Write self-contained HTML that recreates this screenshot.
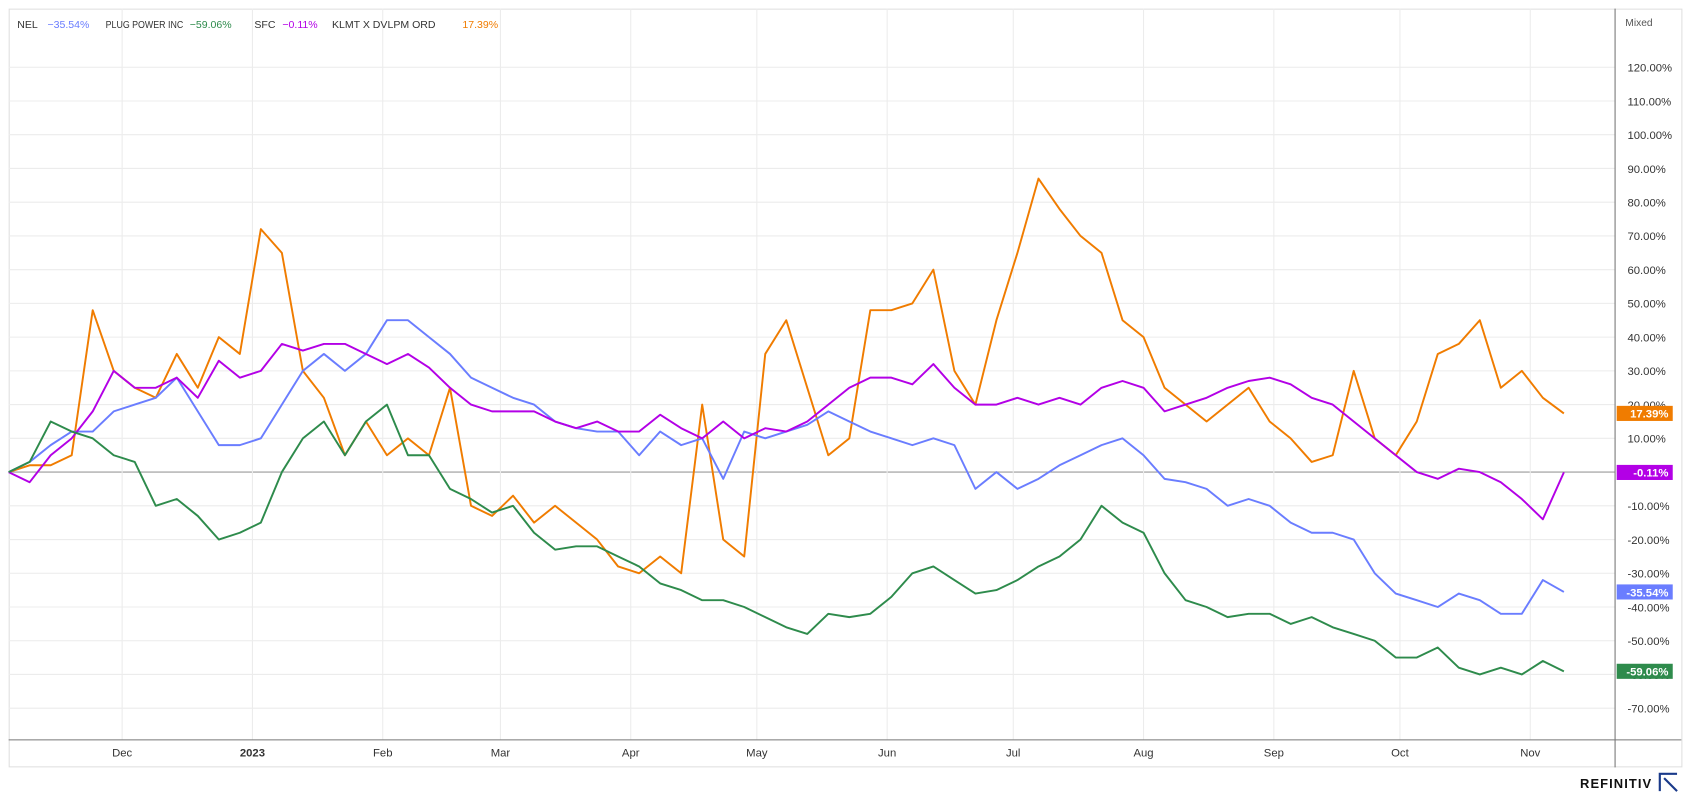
<!DOCTYPE html>
<html><head><meta charset="utf-8"><style>
html,body{margin:0;padding:0;background:#fff;width:1690px;height:794px;overflow:hidden;font-family:"Liberation Sans",sans-serif}
svg text{font-family:"Liberation Sans",sans-serif}
</style></head><body>
<svg id="c" width="1690" height="794" viewBox="0 0 1568 736.7" xmlns="http://www.w3.org/2000/svg"></svg>
<script>
const stepDays = 5;
const nelVals = [0,3,8,12,12,18,20,22,28,18,8,8,10,20,30,35,30,35,45,45,40,35,28,25,22,20,15,13,12,12,5,12,8,10,-2,12,10,12,14,18,15,12,10,8,10,8,-5,0,-5,-2,2,5,8,10,5,-2,-3,-5,-10,-8,-10,-15,-18,-18,-20,-30,-36,-38,-40,-36,-38,-42,-42,-32,-35.54];
const plugVals = [0,3,15,12,10,5,3,-10,-8,-13,-20,-18,-15,0,10,15,5,15,20,5,5,-5,-8,-12,-10,-18,-23,-22,-22,-25,-28,-33,-35,-38,-38,-40,-43,-46,-48,-42,-43,-42,-37,-30,-28,-32,-36,-35,-32,-28,-25,-20,-10,-15,-18,-30,-38,-40,-43,-42,-42,-45,-43,-46,-48,-50,-55,-55,-52,-58,-60,-58,-60,-56,-59.06];
const sfcVals = [0,-3,5,10,18,30,25,25,28,22,33,28,30,38,36,38,38,35,32,35,31,25,20,18,18,18,15,13,15,12,12,17,13,10,15,10,13,12,15,20,25,28,28,26,32,25,20,20,22,20,22,20,25,27,25,18,20,22,25,27,28,26,22,20,15,10,5,0,-2,1,0,-3,-8,-14,-0.11];
const klmtVals = [0,2,2,5,48,30,25,22,35,25,40,35,72,65,30,22,5,15,5,10,5,25,-10,-13,-7,-15,-10,-15,-20,-28,-30,-25,-30,20,-20,-25,35,45,25,5,10,48,48,50,60,30,20,45,65,87,78,70,65,45,40,25,20,15,20,25,15,10,3,5,30,10,5,15,35,38,45,25,30,22,17.39];
const yTicks = [120,110,100,90,80,70,60,50,40,30,20,10,0,-10,-20,-30,-40,-50,-60,-70];
const monthLabels = ["Dec","2023","Feb","Mar","Apr","May","Jun","Jul","Aug","Sep","Oct","Nov"];
const monthDays = [27,58,89,117,148,178,209,239,270,301,331,362];

const svg=document.getElementById('c');
const NS='http://www.w3.org/2000/svg';
const X=d=>8+d*3.9;
const Y=v=>438-v*3.13;
function el(t,a,txt){const e=document.createElementNS(NS,t);for(const k in a)e.setAttribute(k,a[k]);if(txt!==undefined)e.textContent=txt;svg.appendChild(e);return e;}

let b=el('rect',{x:8.5,y:8.5,width:1552,height:703,fill:'none',stroke:'#e0e0e0'});


yTicks.forEach(v=>{
  let g=el('line',{x1:8,x2:1498,y1:Y(v),y2:Y(v),stroke:v===0?'#9a9a9a':'#ececec','stroke-width':1});
  
  
  let t=el('text',{x:1510,y:Y(v)+4,'font-size':10.5,fill:'#333'},v.toFixed(2)+'%');
  
  
});
monthLabels.forEach((m,i)=>{
  let g=el('line',{x1:X(monthDays[i]),x2:X(monthDays[i]),y1:8,y2:686,stroke:'#ececec'});
  
  
  let t=el('text',{x:X(monthDays[i]),y:702,'font-size':10.5,fill:'#333','text-anchor':'middle','font-weight':m==='2023'?'bold':'normal'},m);
  
  
});
let ax=el('line',{x1:8,x2:1560,y1:686.5,y2:686.5,stroke:'#777'});


let ay=el('line',{x1:1498.5,x2:1498.5,y1:8,y2:712,stroke:'#777'});


let mx=el('text',{x:1508,y:24,'font-size':9.5,fill:'#555'},'Mixed');



const series=[
 {name:'klmt',vals:klmtVals,color:'#f07c00'},
 {name:'nel',vals:nelVals,color:'#6a7dff'},
 {name:'sfc',vals:sfcVals,color:'#b300e6'},
 {name:'plug',vals:plugVals,color:'#2e8b4c'}];
series.forEach(s=>{
  const pts=s.vals.map((v,i)=>X(i*stepDays).toFixed(1)+','+Y(v).toFixed(1)).join(' ');
  let p=el('polyline',{points:pts,fill:'none',stroke:s.color,'stroke-width':1.8,'stroke-linejoin':'round'});
  
  
  const last=s.vals[s.vals.length-1];
  const txt=last.toFixed(2)+'%';
  let r=el('rect',{x:1500,y:Y(last)-7,width:52,height:14,fill:s.color});
  
  
  let t=el('text',{x:1548,y:Y(last)+4,'font-size':10.5,'font-weight':'bold',fill:'#fff','text-anchor':'end'},txt);
  
  
});
const legend=[['NEL','#333',16,0],['−35.54%','#6a7dff',44,0],['PLUG POWER INC','#333',98,72],['−59.06%','#2e8b4c',176,0],['SFC','#333',236,0],['−0.11%','#b300e6',262,0],['KLMT X DVLPM ORD','#333',308,0],['17.39%','#f07c00',429,0]];
legend.forEach(l=>{
  const a={x:l[2],y:26,'font-size':9.8,fill:l[1]};
  if(l[3]){a.textLength=l[3];a.lengthAdjust='spacingAndGlyphs';}
  let t=el('text',a,l[0]);
  
  
});
let lg=el('text',{x:1466,y:788*0.928,'font-size':12,'font-weight':'bold',fill:'#111','letter-spacing':'1'},'REFINITIV');


let li=el('path',{d:'M1540 734 V718 H1556 M1544 722 L1556 734',fill:'none',stroke:'#1a3a8a','stroke-width':2});


</script>
</body></html>
